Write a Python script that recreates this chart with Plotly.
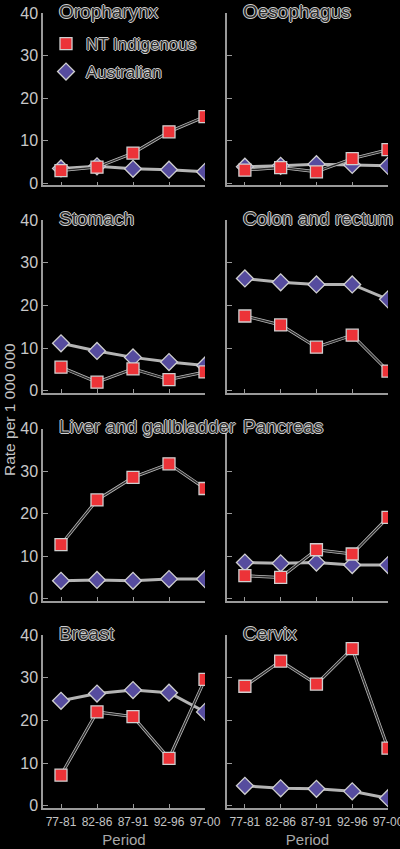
import plotly.graph_objects as go
from plotly.subplots import make_subplots

# periods on the x axis
periods = ["77-81", "82-86", "87-91", "92-96", "97-00"]

sites = ["Oropharynx", "Oesophagus", "Stomach", "Colon and rectum",
         "Liver and gallbladder", "Pancreas", "Breast", "Cervix"]

# rate per 100 000, NT Indigenous
nt_oropharynx = [3.0, 3.8, 7.1, 12.1, 15.7]
nt_oesophagus = [3.1, 3.7, 2.7, 5.8, 7.9]
nt_stomach = [5.5, 2.0, 5.1, 2.6, 4.4]
nt_colon = [17.5, 15.4, 10.2, 13.0, 4.6]
nt_liver = [12.7, 23.2, 28.5, 31.7, 25.9]
nt_pancreas = [5.4, 5.0, 11.5, 10.5, 19.1]
nt_breast = [7.2, 22.0, 20.9, 11.1, 29.6]
nt_cervix = [28.0, 33.9, 28.5, 36.8, 13.5]

# rate per 100 000, Australian
au_oropharynx = [3.5, 4.0, 3.4, 3.2, 2.7]
au_oesophagus = [3.9, 4.1, 4.5, 4.3, 4.1]
au_stomach = [11.1, 9.3, 7.8, 6.7, 5.9]
au_colon = [26.3, 25.4, 24.9, 24.9, 21.4]
au_liver = [4.2, 4.4, 4.2, 4.6, 4.6]
au_pancreas = [8.5, 8.3, 8.5, 7.9, 7.9]
au_breast = [24.6, 26.3, 27.1, 26.5, 22.0]
au_cervix = [4.7, 4.1, 4.0, 3.4, 1.8]

y_ticks = [0, 10, 20, 30, 40]

nt_series = [nt_oropharynx, nt_oesophagus, nt_stomach, nt_colon,
             nt_liver, nt_pancreas, nt_breast, nt_cervix]
au_series = [au_oropharynx, au_oesophagus, au_stomach, au_colon,
             au_liver, au_pancreas, au_breast, au_cervix]

W, H = 400, 849
FONT = "Liberation Sans, Arial, Helvetica, sans-serif"
HALO = ("1px 0px 0px #d0d0d0, -1px 0px 0px #d0d0d0, "
        "0px 1px 0px #d0d0d0, 0px -1px 0px #d0d0d0")
AX = "#9a9a9a"
RED = "#ec3338"
PURPLE = "#564c9e"

# pixel boxes for the panels
col_px = [(43, 205), (227, 388)]
row_px = [(13.3, 185.4), (220, 392.8), (428.5, 600.8), (635, 808)]

fig = make_subplots(rows=4, cols=2)

for i, site in enumerate(sites):
    r, c = i // 2 + 1, i % 2 + 1
    fig.add_trace(go.Scatter(
        x=periods, y=au_series[i], mode="lines+markers",
        line=dict(color="#b4b4b4", width=3),
        marker=dict(symbol="diamond", size=13, color=PURPLE,
                    line=dict(color="#cfcfcf", width=1.3)),
        showlegend=False, hoverinfo="skip"
    ), row=r, col=c)
    # light halo under the dark line
    fig.add_trace(go.Scatter(
        x=periods, y=nt_series[i], mode="lines",
        line=dict(color="#bdbdbd", width=3),
        showlegend=False, hoverinfo="skip"
    ), row=r, col=c)
    fig.add_trace(go.Scatter(
        x=periods, y=nt_series[i], mode="lines+markers",
        line=dict(color="#2a2a2a", width=1.5),
        marker=dict(symbol="square", size=12, color=RED,
                    line=dict(color="#cfcfcf", width=1.3)),
        showlegend=False, hoverinfo="skip"
    ), row=r, col=c)

    x0, x1 = col_px[c - 1]
    y0, y1 = row_px[r - 1]
    fig.update_xaxes(
        domain=[x0 / W, x1 / W], range=[-0.5, 4], automargin=False,
        showline=True, linecolor=AX, linewidth=1.5,
        ticks="inside", ticklen=4, tickcolor=AX, tickwidth=1.2,
        showgrid=False, zeroline=False,
        showticklabels=(r == 4), ticklabelstandoff=2,
        tickfont=dict(family=FONT, size=12, color="#c4c4c4"),
        title=dict(text="Period" if r == 4 else None, standoff=6,
                   font=dict(family=FONT, size=15, color="#a8a8a8")),
        row=r, col=c)
    fig.update_yaxes(
        domain=[1 - y1 / H, 1 - y0 / H], range=[-0.5, 40], automargin=False,
        tickvals=y_ticks,
        showline=True, linecolor=AX, linewidth=1.5,
        ticks="inside", ticklen=5, tickcolor=AX, tickwidth=1.2,
        showgrid=False, zeroline=False,
        showticklabels=(c == 1),
        tickfont=dict(family=FONT, size=16, color="#c8c8c8"),
        row=r, col=c)

    fig.add_annotation(
        text=site, xref="paper", yref="paper",
        x=(x0 + 14) / W, y=1 - (y0 - 2) / H,
        xanchor="left", yanchor="middle", showarrow=False,
        font=dict(family=FONT, size=19, color="#2c2c2c", shadow=HALO))

# y axis title shared by all panels
fig.add_annotation(
    text="Rate per 1 000 000", xref="paper", yref="paper",
    x=9 / W, y=1 - 410 / H, textangle=-90,
    xanchor="center", yanchor="middle", showarrow=False,
    font=dict(family=FONT, size=15.5, color="#c4c4c4"))

# legend entries, markers only
fig.add_trace(go.Scatter(
    x=[None], y=[None], mode="markers", name="NT Indigenous",
    marker=dict(symbol="square", size=12, color=RED,
                line=dict(color="#cfcfcf", width=1.3)),
    legend="legend"))
fig.add_trace(go.Scatter(
    x=[None], y=[None], mode="markers", name="Australian",
    marker=dict(symbol="diamond", size=13, color=PURPLE,
                line=dict(color="#cfcfcf", width=1.3)),
    legend="legend2"))

legend_font = dict(family=FONT, size=17, color="#2c2c2c", shadow=HALO)
fig.update_layout(
    width=W, height=H,
    margin=dict(l=0, r=0, t=0, b=0, autoexpand=False),
    paper_bgcolor="#000000", plot_bgcolor="#000000",
    legend=dict(x=46 / W, y=1 - 44 / H, xanchor="left", yanchor="middle",
                bgcolor="rgba(0,0,0,0)", font=legend_font),
    legend2=dict(x=46 / W, y=1 - 72 / H, xanchor="left", yanchor="middle",
                 bgcolor="rgba(0,0,0,0)", font=legend_font),
)

# no page margin or scrollbars so the figure fills the window exactly
page_css = ("var s=document.documentElement.style, b=document.body.style;"
            "s.margin=b.margin='0';s.overflow=b.overflow='hidden';"
            "s.background=b.background='#000';")
fig.write_html("out.html", config={"displayModeBar": False},
               post_script=page_css)
